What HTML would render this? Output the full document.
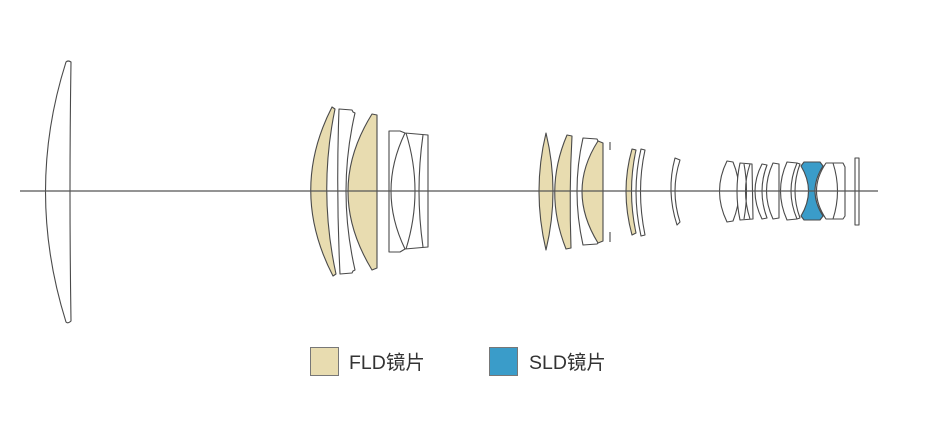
<!DOCTYPE html>
<html><head><meta charset="utf-8"><style>
html,body{margin:0;padding:0;background:#fff;width:935px;height:436px;overflow:hidden}
svg{display:block}
</style></head><body>
<svg width="935" height="436" viewBox="0 0 935 436" xmlns="http://www.w3.org/2000/svg">
<g fill="none" stroke="#4a4a4a" stroke-width="1.1" stroke-linejoin="round">
<path d="M66,62 Q68,60 71,62 Q69,191 71,321 Q68,324 66,322 Q25,191 66,62 Z" fill="#fff"/>
<path d="M332,107 L335,109 Q318,191 336,274 L333,276 Q289,191 332,107 Z" fill="#e8dcb0"/>
<path d="M339,109 L352,110 L353,112 L355,113 Q337,191 355,270 L353,271 L352,273 L340,274 Q336,191 339,109 Z" fill="#fff"/>
<path d="M372,114 L377,115 L377,268 L372,270 Q324,191 372,114 Z" fill="#e8dcb0"/>
<path d="M389,131 L400,131 L405,133 L428,135 L428,247 L405,249 L400,252 L389,252 Z" fill="#fff"/>
<path d="M405,133 Q377,191 405,249"/>
<path d="M406,133 Q424,191 406,249"/>
<path d="M423,135 Q415,191 423,247"/>
<path d="M546,133 Q532,191 546,250 Q560,191 546,133 Z" fill="#e8dcb0"/>
<path d="M567,135 L572,136 Q569,191 571,248 L566,249 Q543,191 567,135 Z" fill="#e8dcb0"/>
<path d="M583,138 L597,139 L598,141 L598,243 L597,244 L583,245 Q571,191 583,138 Z" fill="#fff"/>
<path d="M598,141 L603,143 L603,241 L598,243 Q566,191 598,141 Z" fill="#e8dcb0"/>
<path d="M610,142 L610,150 M610,232 L610,242"/>
<path d="M632,149 L636,150 Q627,191 636,233 L632,235 Q620,191 632,149 Z" fill="#e8dcb0"/>
<path d="M641,149 L645,150 Q636,191 645,235 L641,236 Q631,191 641,149 Z" fill="#fff"/>
<path d="M675,158 L680,160 Q670,191 680,222 L677,225 Q666,191 675,158 Z" fill="#fff"/>
<path d="M727,161 L733,162 Q745,191 733,221 L727,222 Q712,191 727,161 Z" fill="#fff"/>
<path d="M740,163 L752,164 L753,219 L740,220 Q734,191 740,163 Z" fill="#fff"/>
<path d="M744,164 Q749,191 744,219 M750,164 Q741,191 750,219"/>
<path d="M762,164 L767,165 Q757,191 767,218 L762,219 Q748,191 762,164 Z" fill="#fff"/>
<path d="M773,163 L779,164 L779,218 L773,219 Q760,191 773,163 Z" fill="#fff"/>
<path d="M787,162 L797,163 Q785,191 797,219 L787,220 Q774,191 787,162 Z" fill="#fff"/>
<path d="M797,163 L800,164 Q790,191 800,218 L797,219"/>
<path d="M804,162 L820,162 L823,166 Q807,191 823,216 L820,220 L804,220 L801,216 Q816,191 801,166 Z" fill="#3a9cc9"/>
<path d="M826,163 L843,163 L845,167 L845,216 L843,219 L826,219 Q807,191 826,163 Z" fill="#fff"/>
<path d="M833,163 Q842,191 833,219"/>
<rect x="855" y="158" width="4" height="67" fill="#fff"/>
</g>
<line x1="20" y1="191" x2="878" y2="191" stroke="#555" stroke-width="1.2"/>
<rect x="310.5" y="347.5" width="28" height="28" fill="#e8dcb0" stroke="#777"/>
<text x="349" y="369" font-family="'Liberation Sans','Noto Sans CJK SC',sans-serif" font-size="19.5" fill="#333">FLD镜片</text>
<rect x="489.5" y="347.5" width="28" height="28" fill="#3a9cc9" stroke="#777"/>
<text x="529" y="369" font-family="'Liberation Sans','Noto Sans CJK SC',sans-serif" font-size="19.5" fill="#333">SLD镜片</text>
</svg>
</body></html>
